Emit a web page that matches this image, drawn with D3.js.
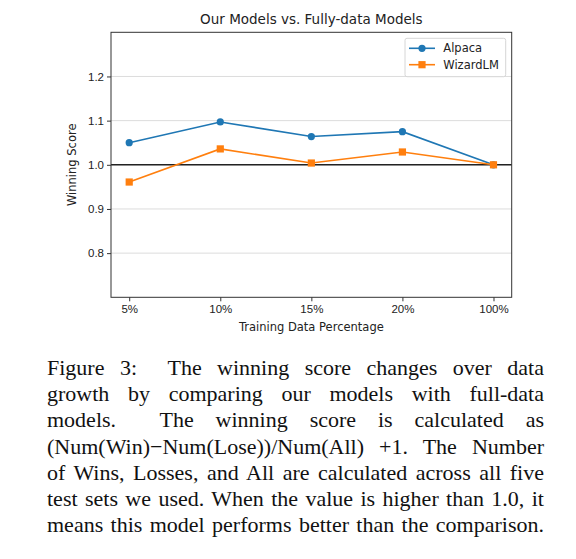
<!DOCTYPE html>
<html>
<head>
<meta charset="utf-8">
<script src="https://cdn.jsdelivr.net/npm/d3@7"></script>
<style>
  body { margin: 0; background: #fff; width: 576px; height: 559px; overflow: hidden; }
  #caption {
    position: absolute; left: 47px; top: 355px; width: 497px;
    font-family: "Liberation Serif", "Times New Roman", serif;
    font-size: 22px; line-height: 26.2px; color: #111;
  }
  #caption div { text-align: justify; text-align-last: justify; white-space: nowrap; }
</style>
</head>
<body>
<div id="chart"></div>
<div id="caption"></div>
<script>
(function() {

    // categories and values
    var categories = ["5%", "10%", "15%", "20%", "100%"];
    var alpaca = [1.050, 1.097, 1.064, 1.075, 1.000];
    var wizardlm = [0.961, 1.036, 1.004, 1.029, 1.000];
    var yTicks = [0.8, 0.9, 1.0, 1.1, 1.2];
    var seriesNames = ["Alpaca", "WizardLM"];

    var captionLines = [
        "Figure 3:\u00a0 The winning score changes over data",
        "growth by comparing our models with full-data",
        "models.\u00a0 The winning score is calculated as",
        "(Num(Win)\u2212Num(Lose))/Num(All) +1. The Number",
        "of Wins, Losses, and All are calculated across all five",
        "test sets we used. When the value is higher than 1.0, it",
        "means this model performs better than the comparison."
    ];

    var width = 576,
        height = 340,
        left = 111, right = 511.7, top = 32.3, bottom = 297.3;

    var svg = d3.select("#chart")
        .append("svg")
        .attr("width", width)
        .attr("height", height)
        .style("font-family", "'DejaVu Sans', sans-serif");

    var x = d3.scalePoint()
        .domain(categories)
        .range([left, right])
        .padding(0.2);

    var y = d3.scaleLinear()
        .domain([0.7, 1.3])
        .range([bottom, top]);

    // grid lines
    svg.append("g").selectAll("line")
        .data(yTicks)
        .enter().append("line")
        .attr("x1", left).attr("x2", right)
        .attr("y1", function(d) { return y(d); })
        .attr("y2", function(d) { return y(d); })
        .attr("stroke", "#dcdcdc")
        .attr("stroke-width", 1);

    // reference line at 1.0
    svg.append("line")
        .attr("x1", left).attr("x2", right)
        .attr("y1", y(1.0)).attr("y2", y(1.0))
        .attr("stroke", "#222")
        .attr("stroke-width", 1.4);

    // axes
    var yAxis = svg.append("g")
        .attr("transform", "translate(" + left + ",0)")
        .call(d3.axisLeft(y).tickValues(yTicks).tickFormat(d3.format(".1f")).tickSize(4).tickPadding(3));

    var xAxis = svg.append("g")
        .attr("transform", "translate(0," + bottom + ")")
        .call(d3.axisBottom(x).tickSize(4).tickPadding(4));

    [xAxis, yAxis].forEach(function(a) {
        a.select(".domain").remove();
        a.selectAll("text").style("font-size", "11.5px").attr("fill", "#222");
        a.selectAll("line").attr("stroke", "#333");
    });

    // frame
    svg.append("rect")
        .attr("x", left).attr("y", top)
        .attr("width", right - left).attr("height", bottom - top)
        .attr("fill", "none")
        .attr("stroke", "#333")
        .attr("stroke-width", 1);

    var line = d3.line()
        .x(function(d, i) { return x(categories[i]); })
        .y(function(d) { return y(d); });

    var colors = ["#1f77b4", "#ff7f0e"];
    var series = [alpaca, wizardlm];

    series.forEach(function(s, k) {
        svg.append("path")
            .datum(s)
            .attr("d", line)
            .attr("fill", "none")
            .attr("stroke", colors[k])
            .attr("stroke-width", 1.6);
    });

    svg.append("g").selectAll("circle")
        .data(alpaca)
        .enter().append("circle")
        .attr("cx", function(d, i) { return x(categories[i]); })
        .attr("cy", function(d) { return y(d); })
        .attr("r", 3.6)
        .attr("fill", colors[0]);

    svg.append("g").selectAll("rect")
        .data(wizardlm)
        .enter().append("rect")
        .attr("x", function(d, i) { return x(categories[i]) - 3.6; })
        .attr("y", function(d) { return y(d) - 3.6; })
        .attr("width", 7.2).attr("height", 7.2)
        .attr("fill", colors[1]);

    // legend
    var legend = svg.append("g");
    legend.append("rect")
        .attr("x", 405).attr("y", 38.3)
        .attr("width", 100.7).attr("height", 38.4)
        .attr("rx", 2)
        .attr("fill", "#fff")
        .attr("fill-opacity", 0.8)
        .attr("stroke", "#d6d6d6");

    seriesNames.forEach(function(name, k) {
        var ly = 48.3 + k * 16.4;
        legend.append("line")
            .attr("x1", 409).attr("x2", 435)
            .attr("y1", ly).attr("y2", ly)
            .attr("stroke", colors[k]).attr("stroke-width", 1.6);
        if (k === 0) {
            legend.append("circle").attr("cx", 422).attr("cy", ly).attr("r", 3.6).attr("fill", colors[k]);
        } else {
            legend.append("rect").attr("x", 418.4).attr("y", ly - 3.6).attr("width", 7.2).attr("height", 7.2).attr("fill", colors[k]);
        }
        legend.append("text")
            .attr("x", 443.3).attr("y", ly)
            .attr("dy", "0.35em")
            .style("font-size", "11.5px")
            .attr("fill", "#222")
            .text(name);
    });

    // titles
    svg.append("text")
        .attr("x", (left + right) / 2).attr("y", 24)
        .attr("text-anchor", "middle")
        .style("font-size", "13.5px")
        .attr("fill", "#222")
        .text("Our Models vs. Fully-data Models");

    svg.append("text")
        .attr("x", (left + right) / 2).attr("y", 331)
        .attr("text-anchor", "middle")
        .style("font-size", "11.5px")
        .attr("fill", "#222")
        .text("Training Data Percentage");

    svg.append("text")
        .attr("transform", "translate(76," + ((top + bottom) / 2) + ") rotate(-90)")
        .attr("text-anchor", "middle")
        .style("font-size", "11.5px")
        .attr("fill", "#222")
        .text("Winning Score");

    d3.select("#caption").selectAll("div")
        .data(captionLines)
        .enter().append("div")
        .text(function(d) { return d; });

})();
</script>
</body>
</html>
